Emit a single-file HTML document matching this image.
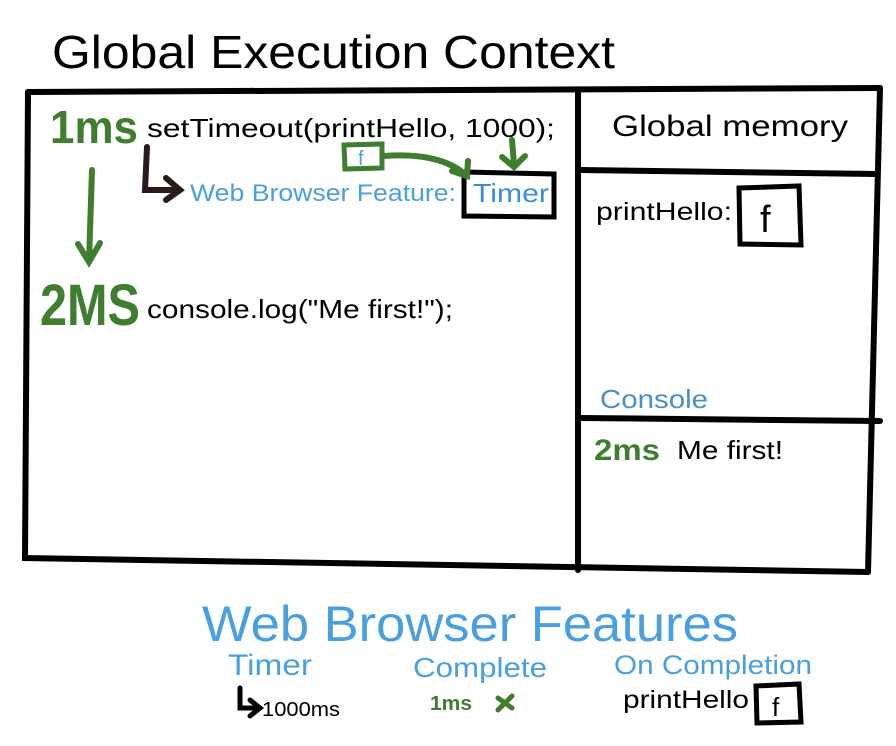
<!DOCTYPE html>
<html><head><meta charset="utf-8"><style>
html,body{margin:0;padding:0;background:#fff;}
svg{display:block;}
text{font-family:"Liberation Sans",Arial,sans-serif;}
</style></head><body>
<svg width="896" height="746" viewBox="0 0 896 746" xmlns="http://www.w3.org/2000/svg">
<rect width="896" height="746" fill="#fff"/>
<text x="52" y="68" font-size="46" textLength="563" lengthAdjust="spacingAndGlyphs" fill="#000">Global Execution Context</text>
<g stroke="#000" stroke-width="6" fill="none" stroke-linecap="round">
<path d="M28 92 L880 88"/>
<path d="M28 92 L25 558 L868 572"/>
<path d="M880 88 L868 572"/>
<path d="M578 92 L578 570"/>
<path d="M580 170 L876 174"/>
<path d="M580 418 L880 421"/>
<path d="M464 172 L554 174 L554 217 L464 216 Z" stroke-width="5"/>
<path d="M739 188 L799 186 L801 245 L740 244 Z" stroke-width="5"/>
<path d="M756 686 L799 684 L801 722 L757 723 Z" stroke-width="5"/>
<path d="M147 147 L145 190 L178 190 M166 178 L180 190 L166 200" stroke="#2a1a1a" stroke-width="6"/>
<path d="M240 688 L240 708 L258 708 M250 700 L260 708 L250 716" stroke-width="5"/>
</g>
<g stroke="#3f7d2f" stroke-width="6" fill="none" stroke-linecap="round">
<path d="M344 145 L382 144 L382 168 L345 169 Z" stroke-width="5"/>
<path d="M384 156 Q440 152 466 175 M452 171 L467 176 L468 161"/>
<path d="M512 140 L514 164 M502 157 L514 167 L525 156"/>
<path d="M92 170 L89 262 M78 244 L89 262 L100 243"/>
<path d="M498 698 L512 708 M512 696 L498 710" stroke-width="5"/>
</g>
<g font-weight="bold" fill="#3f7d2f">
<text x="50" y="143" font-size="46" textLength="88" lengthAdjust="spacingAndGlyphs">1ms</text>
<text x="40" y="325" font-size="58" textLength="100" lengthAdjust="spacingAndGlyphs">2MS</text>
<text x="594" y="460" font-size="30" textLength="66" lengthAdjust="spacingAndGlyphs">2ms</text>
<text x="430" y="710" font-size="20" textLength="42" lengthAdjust="spacingAndGlyphs">1ms</text>
</g>
<g>
<text x="147" y="137" font-size="26" textLength="408" lengthAdjust="spacingAndGlyphs" fill="#000">setTimeout(printHello, 1000);</text>
<text x="358" y="165" font-size="20" fill="#4a9fe0">f</text>
<text x="190" y="201" font-size="24" textLength="266" lengthAdjust="spacingAndGlyphs" fill="#4a9fe0">Web Browser Feature:</text>
<text x="473" y="202" font-size="26" textLength="76" lengthAdjust="spacingAndGlyphs" fill="#3a8dd8">Timer</text>
<text x="147" y="318" font-size="26" textLength="306" lengthAdjust="spacingAndGlyphs" fill="#000">console.log("Me first!");</text>
<text x="612" y="136" font-size="30" textLength="236" lengthAdjust="spacingAndGlyphs" fill="#000">Global memory</text>
<text x="596" y="220" font-size="25" textLength="136" lengthAdjust="spacingAndGlyphs" fill="#000">printHello:</text>
<text x="760" y="232" font-size="38" fill="#000">f</text>
<text x="600" y="408" font-size="26" textLength="108" lengthAdjust="spacingAndGlyphs" fill="#4a90c8">Console</text>
<text x="677" y="459" font-size="26" textLength="106" lengthAdjust="spacingAndGlyphs" fill="#000">Me first!</text>
<text x="202" y="641" font-size="50" textLength="536" lengthAdjust="spacingAndGlyphs" fill="#4a9fe0">Web Browser Features</text>
<text x="228" y="675" font-size="30" textLength="84" lengthAdjust="spacingAndGlyphs" fill="#4a9fe0">Timer</text>
<text x="413" y="677" font-size="28" textLength="134" lengthAdjust="spacingAndGlyphs" fill="#4a9fe0">Complete</text>
<text x="614" y="674" font-size="27" textLength="198" lengthAdjust="spacingAndGlyphs" fill="#4a9fe0">On Completion</text>
<text x="262" y="716" font-size="20" textLength="78" lengthAdjust="spacingAndGlyphs" fill="#000">1000ms</text>
<text x="623" y="708" font-size="25" textLength="126" lengthAdjust="spacingAndGlyphs" fill="#000">printHello</text>
<text x="772" y="716" font-size="26" fill="#000">f</text>
</g>
</svg>
</body></html>
